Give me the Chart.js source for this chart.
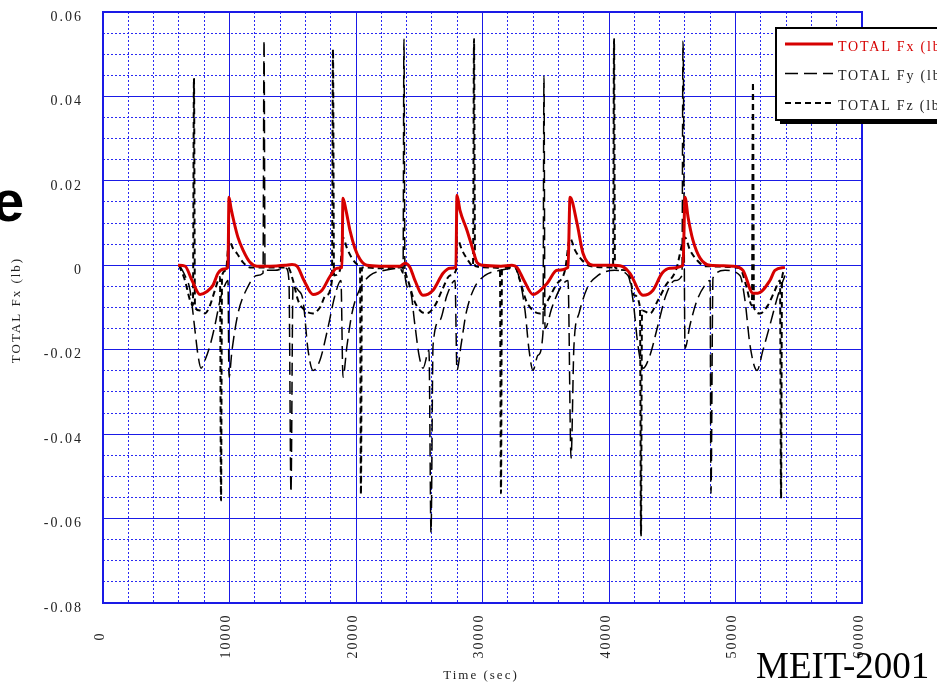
<!DOCTYPE html>
<html>
<head>
<meta charset="utf-8">
<title>TOTAL Fx / Fy / Fz</title>
<script src="https://cdn.jsdelivr.net/npm/chart.js@4.4.1/dist/chart.umd.min.js"></script>
<style>
  html, body { margin: 0; padding: 0; background: #ffffff; }
  #wrap { position: relative; width: 937px; height: 683px; }
</style>
</head>
<body>
<div id="wrap"><canvas id="chart"></canvas></div>
<script>
// ---- data (time in sec, force in lb) ----
const fxTime = [
  5930, 6480, 7040, 7670, 8220, 8700, 9090, 9570, 9880, 9960,
  10120, 10360, 10670, 11070, 11620, 12170, 13200, 14390, 14940, 15340,
  15890, 16600, 17310, 17950, 18500, 18890, 18970, 19210, 19520, 19920,
  20320, 20870, 21900, 23480, 23870, 24270, 24660, 25300, 26090, 26880,
  27430, 27900, 27980, 28220, 28770, 29250, 29560, 30040, 31460, 32330,
  32730, 33280, 33990, 35100, 35890, 36760, 36920, 37470, 37950, 38740,
  40400, 41190, 41660, 42690, 43480, 44190, 44820, 45850, 46010, 46250,
  46640, 47200, 47990, 49800, 50590, 51380, 51770, 52720, 53120, 53910
];
const fxForce = [
  0, -0.0002, -0.0036, -0.0069, -0.0062, -0.0047, -0.0019, -0.0009, -0.0005, 0.0161,
  0.0135, 0.0102, 0.0066, 0.0036, 0.0007, -0.0002, -0.0002, 0, 0.0002, -0.0002,
  -0.0036, -0.0069, -0.0059, -0.0026, -0.0007, -0.0005, 0.0159, 0.0130, 0.0083, 0.0040,
  0.0014, 0, -0.0002, -0.0002, 0.0005, -0.0005, -0.0036, -0.0071, -0.0059, -0.0019,
  -0.0007, -0.0005, 0.0166, 0.0130, 0.0083, 0.0036, 0.0007, 0, -0.0002, 0,
  -0.0005, -0.0036, -0.0069, -0.0043, -0.0012, -0.0005, 0.0161, 0.0100, 0.0028, 0,
  0, -0.0005, -0.0019, -0.0071, -0.0059, -0.0019, -0.0007, 0, 0.0161, 0.0114,
  0.0059, 0.0017, 0, -0.0002, -0.0012, -0.0066, -0.0066, -0.0036, -0.0012, -0.0005
];

const fyTime = [
  6090, 6480, 6880, 7270, 7510, 7750, 8060, 8460, 8850, 9250,
  9640, 9880, 9960, 10200, 10670, 11380, 12170, 12650, 12730, 12810,
  13600, 14470, 14700, 14860, 15020, 15420, 15810, 16210, 16600, 17150,
  17790, 18340, 18810, 18970, 19290, 19680, 20320, 21110, 22290, 23480,
  23720, 23790, 23870, 24270, 24660, 24980, 25300, 25770, 25930, 26090,
  26640, 27190, 27830, 27980, 28300, 28700, 29330, 30200, 31380, 32570,
  32960, 33360, 33680, 33990, 34390, 34780, 34860, 34940, 35490, 36130,
  36760, 37000, 37230, 37630, 38260, 39130, 40470, 41500, 41900, 42290,
  42690, 43240, 43870, 44500, 45210, 45770, 45850, 46010, 46400, 46960,
  47590, 47990, 48060, 48220, 49170, 50350, 50750, 51150, 51700, 52170,
  52720, 53360, 53910
];
const fyForce = [
  -0.0002, -0.0024, -0.0059, -0.0154, -0.0213, -0.0244, -0.0225, -0.0190, -0.0142, -0.0083,
  -0.0047, -0.0036, -0.0265, -0.0201, -0.0114, -0.0055, -0.0024, -0.0019, 0.0533, -0.0012,
  -0.0012, -0.0007, -0.0036, -0.0538, -0.0047, -0.0059, -0.0083, -0.0201, -0.0249, -0.0225,
  -0.0147, -0.0071, -0.0036, -0.0265, -0.0190, -0.0114, -0.0055, -0.0024, -0.0012, -0.0007,
  -0.0019, 0.0536, -0.0024, -0.0059, -0.0142, -0.0213, -0.0244, -0.0201, -0.0633, -0.0190,
  -0.0130, -0.0071, -0.0036, -0.0249, -0.0190, -0.0114, -0.0055, -0.0024, -0.0012, -0.0007,
  -0.0036, -0.0107, -0.0201, -0.0249, -0.0213, -0.0160, 0.0448, -0.0150, -0.0100, -0.0055,
  -0.0036, -0.0457, -0.0190, -0.0114, -0.0055, -0.0024, -0.0012, -0.0024, -0.0083, -0.0190,
  -0.0244, -0.0213, -0.0142, -0.0071, -0.0036, -0.0024, 0.0531, -0.0197, -0.0142, -0.0083,
  -0.0047, -0.0036, -0.0540, -0.0030, -0.0012, -0.0024, -0.0083, -0.0190, -0.0249, -0.0201,
  -0.0142, -0.0071, -0.0024
];

const fzTime = [
  6010, 6480, 6880, 7110, 7190, 7270, 7670, 8060, 8460, 8850,
  9250, 9330, 9410, 9720, 9960, 10280, 10590, 11070, 11620, 13200,
  14620, 15020, 15420, 15970, 16600, 17150, 17630, 18100, 18180, 18260,
  18730, 18970, 19290, 19680, 20160, 20320, 20390, 20470, 21900, 23640,
  24110, 24590, 25060, 25610, 26250, 26800, 27430, 27900, 27980, 28380,
  28850, 29250, 29330, 29410, 30590, 31380, 31460, 31540, 32570, 32960,
  33440, 33990, 34540, 35170, 35810, 36520, 36920, 37310, 37870, 38500,
  40320, 40400, 40470, 41500, 41980, 42450, 42530, 42610, 43240, 43870,
  44500, 45290, 46010, 46400, 46960, 47590, 50350, 50830, 51300, 51380,
  51460, 51940, 52560, 53120, 53520, 53600, 53680, 53910
];
const fzForce = [
  0, -0.0036, -0.0083, -0.0095, 0.0443, -0.0100, -0.0107, -0.0114, -0.0095, -0.0059,
  -0.0028, -0.0557, -0.0024, -0.0012, 0.0059, 0.0040, 0.0028, 0.0007, -0.0005, -0.0005,
  -0.0005, -0.0036, -0.0083, -0.0107, -0.0114, -0.0100, -0.0071, -0.0036, 0.0512, -0.0024,
  -0.0012, 0.0066, 0.0040, 0.0017, 0.0002, -0.0005, -0.0543, -0.0005, -0.0007, -0.0005,
  -0.0036, -0.0083, -0.0107, -0.0114, -0.0095, -0.0059, -0.0024, -0.0012, 0.0064, 0.0036,
  0.0012, -0.0002, 0.0536, -0.0002, -0.0005, -0.0007, -0.0540, -0.0007, -0.0005, -0.0036,
  -0.0083, -0.0107, -0.0114, -0.0083, -0.0047, -0.0012, 0.0064, 0.0036, 0.0012, -0.0002,
  -0.0005, 0.0536, -0.0005, -0.0012, -0.0071, -0.0100, -0.0640, -0.0107, -0.0114, -0.0083,
  -0.0047, -0.0012, 0.0066, 0.0036, 0.0012, -0.0002, -0.0007, -0.0047, -0.0095, 0.0434,
  -0.0100, -0.0114, -0.0095, -0.0059, -0.0036, -0.0552, -0.0030, -0.0012
];

const seriesLabels = ['TOTAL Fx (lb)', 'TOTAL Fy (lb)', 'TOTAL Fz (lb)'];
const xTickValues = [0, 10000, 20000, 30000, 40000, 50000, 60000];
const xTickLabels = ['0', '10000', '20000', '30000', '40000', '50000', '60000'];
const xTitle = 'Time (sec)';
const yTitle = 'TOTAL Fx (lb)';
const footerText = 'MEIT-2001';

// ---- helpers ----
const SERIF = '"Liberation Serif", "Times New Roman", Times, serif';
const SANS = '"Liberation Sans", Arial, Helvetica, sans-serif';
const GRID_MAJOR = '#1a1ae6';
const GRID_MINOR = '#2a2af2';
const pts = (ts, vs) => ts.map((t, i) => ({ x: t, y: vs[i] }));
const isMultiple = (v, step) => Math.abs(v / step - Math.round(v / step)) < 1e-6;

// frame, rotated tick labels, titles, legend and footer
const decor = {
  id: 'decor',
  beforeDraw(chart) {
    chart.ctx.letterSpacing = '2px';
  },
  beforeDatasetsDraw(chart) {
    const { ctx, chartArea: a } = chart;
    ctx.save();
    ctx.strokeStyle = GRID_MAJOR;
    ctx.lineWidth = 2;
    ctx.strokeRect(a.left, a.top, a.right - a.left, a.bottom - a.top);
    ctx.restore();
  },
  afterDraw(chart) {
    const ctx = chart.ctx;
    const xs = chart.scales.x;
    ctx.save();
    ctx.fillStyle = '#222';
    ctx.textAlign = 'center';
    ctx.textBaseline = 'middle';

    // x tick labels, rotated and centred on one line
    ctx.font = '14px ' + SERIF;
    ctx.letterSpacing = '2px';
    xTickValues.forEach((v, i) => {
      ctx.save();
      ctx.translate(xs.getPixelForValue(v) - 3, 636);
      ctx.rotate(-Math.PI / 2);
      ctx.fillText(xTickLabels[i], 0, 0);
      ctx.restore();
    });

    // axis titles
    ctx.font = '13px ' + SERIF;
    ctx.fillText(xTitle, 481, 676);
    ctx.save();
    ctx.translate(17, 310);
    ctx.rotate(-Math.PI / 2);
    ctx.fillText(yTitle, 0, 0);
    ctx.restore();

    // large bold letter at the left edge
    ctx.letterSpacing = '0px';
    ctx.font = 'bold 58px ' + SANS;
    ctx.fillStyle = '#000';
    ctx.textAlign = 'left';
    ctx.textBaseline = 'alphabetic';
    ctx.fillText('e', -8, 221);

    // footer text
    ctx.font = '37px ' + SERIF;
    ctx.fillText(footerText, 756, 678);

    // legend box with drop shadow
    const bx = 776, by = 28, bw = 200, bh = 92;
    ctx.fillStyle = '#000';
    ctx.fillRect(bx + 4, by + 4, bw, bh);
    ctx.fillStyle = '#fff';
    ctx.fillRect(bx, by, bw, bh);
    ctx.strokeStyle = '#000';
    ctx.lineWidth = 2;
    ctx.strokeRect(bx, by, bw, bh);

    ctx.font = '14px ' + SERIF;
    ctx.letterSpacing = '1.8px';
    ctx.textBaseline = 'middle';
    chart.data.datasets.forEach((ds, i) => {
      const y = 44 + i * 29.5;
      ctx.save();
      ctx.strokeStyle = ds.borderColor;
      ctx.lineWidth = ds.borderWidth;
      ctx.setLineDash(ds.borderDash || []);
      ctx.beginPath();
      ctx.moveTo(785, y);
      ctx.lineTo(833, y);
      ctx.stroke();
      ctx.restore();
      ctx.fillStyle = i === 0 ? ds.borderColor : '#222';
      ctx.fillText(ds.label, 838, y + 3);
    });
    ctx.restore();
  }
};

new Chart(document.getElementById('chart'), {
  type: 'line',
  data: {
    datasets: [
      {
        label: seriesLabels[0],
        data: pts(fxTime, fxForce),
        borderColor: '#d60000',
        borderWidth: 3,
        borderDash: [],
        pointRadius: 0,
        cubicInterpolationMode: 'monotone'
      },
      {
        label: seriesLabels[1],
        data: pts(fyTime, fyForce),
        borderColor: '#000000',
        borderWidth: 1.5,
        borderDash: [13, 6],
        pointRadius: 0,
        cubicInterpolationMode: 'monotone'
      },
      {
        label: seriesLabels[2],
        data: pts(fzTime, fzForce),
        borderColor: '#000000',
        borderWidth: 2,
        borderDash: [6, 4],
        pointRadius: 0,
        cubicInterpolationMode: 'monotone'
      }
    ]
  },
  options: {
    responsive: true,
    maintainAspectRatio: false,
    devicePixelRatio: 1,
    animation: false,
    layout: { padding: { top: 12, right: 75, bottom: 0, left: 0 } },
    plugins: { legend: { display: false }, tooltip: { enabled: false } },
    scales: {
      x: {
        type: 'linear',
        min: 0,
        max: 60000,
        afterFit: s => { s.height = 80; s.paddingLeft = 0; s.paddingRight = 0; },
        ticks: { display: false, stepSize: 2000, maxTicksLimit: 100 },
        grid: {
          drawTicks: false,
          lineWidth: 1,
          color: c => (c.tick && isMultiple(c.tick.value, 10000)) ? GRID_MAJOR : GRID_MINOR
        },
        border: {
          display: false,
          dash: c => (c.tick && isMultiple(c.tick.value, 10000)) ? [] : [2, 2]
        }
      },
      y: {
        type: 'linear',
        min: -0.08,
        max: 0.06,
        afterFit: s => { s.width = 103; s.paddingTop = 0; s.paddingBottom = 0; },
        ticks: {
          stepSize: 0.005,
          maxTicksLimit: 100,
          autoSkip: false,
          padding: 20,
          labelOffset: 5,
          color: '#222',
          font: { family: SERIF, size: 14 },
          callback: v => {
            if (!isMultiple(v, 0.02)) return '';
            return Math.abs(v) < 1e-9 ? '0' : v.toFixed(2);
          }
        },
        grid: {
          drawTicks: false,
          lineWidth: 1,
          color: c => (c.tick && isMultiple(c.tick.value, 0.02)) ? GRID_MAJOR : GRID_MINOR
        },
        border: {
          display: false,
          dash: c => (c.tick && isMultiple(c.tick.value, 0.02)) ? [] : [2, 2]
        }
      }
    }
  },
  plugins: [decor]
});
</script>
</body>
</html>
